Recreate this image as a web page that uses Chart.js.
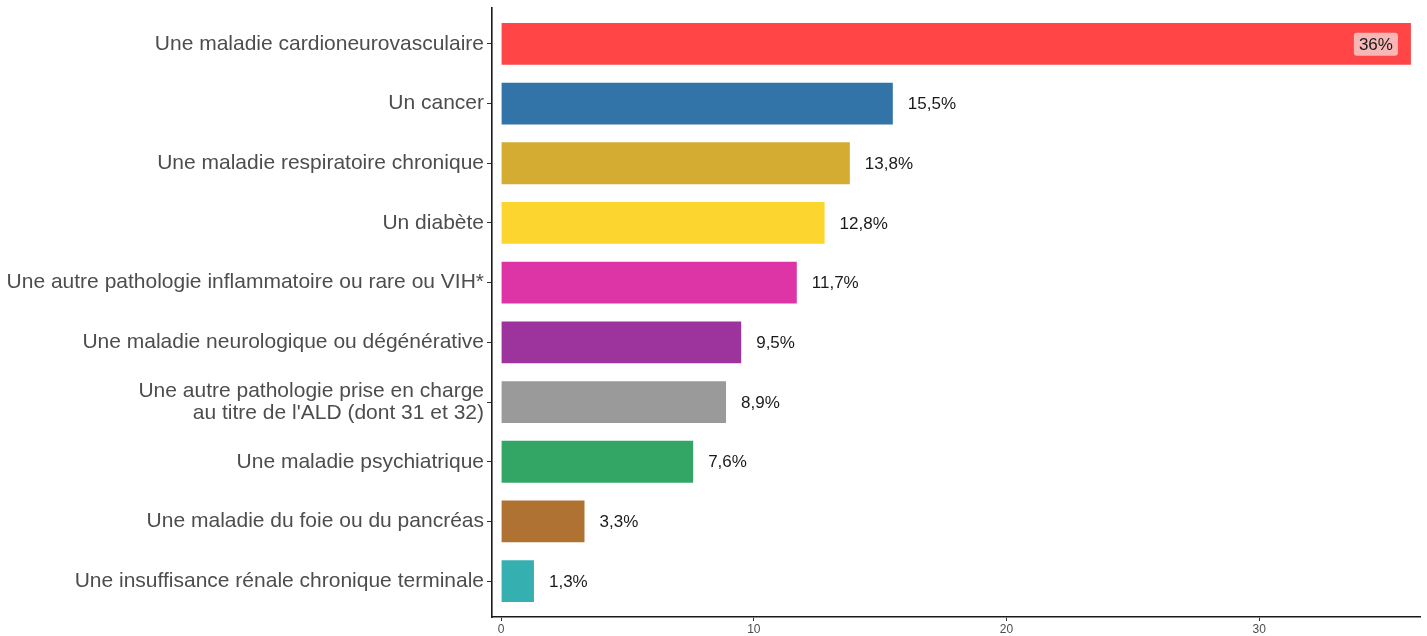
<!DOCTYPE html>
<html lang="fr">
<head>
  <meta charset="utf-8">
  <title>Pathologies</title>
  <script src="https://cdn.jsdelivr.net/npm/chart.js@4.4.1/dist/chart.umd.min.js"></script>
  <style>
    html, body { margin: 0; padding: 0; background: #fff; }
    #wrap { width: 1427px; height: 636px; position: relative; }
  </style>
</head>
<body>
<div id="wrap">
  <canvas id="barChart"></canvas>
</div>
<script>
// categories, top to bottom
var categories = [
  'Une maladie cardioneurovasculaire',
  'Un cancer',
  'Une maladie respiratoire chronique',
  'Un diabète',
  'Une autre pathologie inflammatoire ou rare ou VIH*',
  'Une maladie neurologique ou dégénérative',
  ['Une autre pathologie prise en charge', "au titre de l'ALD (dont 31 et 32)"],
  'Une maladie psychiatrique',
  'Une maladie du foie ou du pancréas',
  'Une insuffisance rénale chronique terminale'
];
var values = [36, 15.5, 13.8, 12.8, 11.7, 9.5, 8.9, 7.6, 3.3, 1.3];
var valueLabels = ['36%', '15,5%', '13,8%', '12,8%', '11,7%', '9,5%', '8,9%', '7,6%', '3,3%', '1,3%'];
var barColors = ['#ff4545', '#3374a8', '#d4ac32', '#fdd52f', '#dd35a6',
                 '#9d339c', '#9a9a9a', '#33a565', '#b07233', '#36afb0'];
var xTicks = [0, 10, 20, 30];

var fontFamily = '"Liberation Sans", Arial, sans-serif';

var points = values.map(function(v, i) { return { x: v, y: i }; });

// value labels next to the bars (the biggest one sits inside, on a light box)
var labelPlugin = {
  id: 'valueLabels',
  afterDatasetsDraw: function(chart) {
    var ctx = chart.ctx;
    var meta = chart.getDatasetMeta(0);
    ctx.save();
    ctx.font = '17px ' + fontFamily;
    ctx.textBaseline = 'middle';
    meta.data.forEach(function(bar, i) {
      var txt = valueLabels[i];
      if (i === 0) {
        var w = ctx.measureText(txt).width;
        var right = bar.x - 13;
        var left = right - w - 10;
        ctx.fillStyle = '#f7b7b7';
        ctx.beginPath();
        ctx.roundRect(left, bar.y - 11, w + 10, 23, 3);
        ctx.fill();
        ctx.fillStyle = '#1a1a1a';
        ctx.textAlign = 'left';
        ctx.fillText(txt, left + 5, bar.y + 1);
      } else {
        ctx.fillStyle = '#1a1a1a';
        ctx.textAlign = 'left';
        ctx.fillText(txt, bar.x + 15, bar.y + 1);
      }
    });
    ctx.restore();
  }
};

var ctx = document.getElementById('barChart').getContext('2d');
var mychart = new Chart(ctx, {
  type: 'bar',
  data: {
    datasets: [{
      data: points,
      backgroundColor: barColors,
      borderWidth: 0,
      barPercentage: 0.7,
      categoryPercentage: 1
    }]
  },
  options: {
    indexAxis: 'y',
    responsive: true,
    maintainAspectRatio: false,
    animation: false,
    layout: { padding: { top: 8, right: 7, left: 0, bottom: 0 } },
    plugins: {
      legend: { display: false },
      tooltip: { enabled: false }
    },
    scales: {
      x: {
        type: 'linear',
        min: -0.36,
        max: 36.36,
        afterBuildTicks: function(axis) {
          axis.ticks = xTicks.map(function(v) { return { value: v }; });
        },
        afterFit: function(axis) { axis.height = 19; },
        border: { display: true, color: '#1a1a1a', width: 1.6 },
        grid: { drawOnChartArea: false, tickLength: 4, color: '#333', tickColor: '#333' },
        ticks: {
          padding: 1,
          color: '#4d4d4d',
          font: { family: fontFamily, size: 12 },
          maxRotation: 0
        }
      },
      y: {
        type: 'linear',
        reverse: true,
        offset: false,
        min: -0.6,
        max: 9.6,
        afterBuildTicks: function(axis) {
          axis.ticks = categories.map(function(c, i) { return { value: i }; });
        },
        afterFit: function(axis) {
          axis.width = 492;
          axis.paddingTop = 0;
          axis.paddingBottom = 0;
        },
        border: { display: true, color: '#1a1a1a', width: 1.6 },
        grid: { offset: false, drawOnChartArea: false, tickLength: 5, color: '#333', tickColor: '#333' },
        ticks: {
          padding: 3,
          color: '#4d4d4d',
          font: { family: fontFamily, size: 21, lineHeight: 1.02 },
          callback: function(value) { return categories[value]; }
        }
      }
    }
  },
  plugins: [labelPlugin]
});
</script>
</body>
</html>
